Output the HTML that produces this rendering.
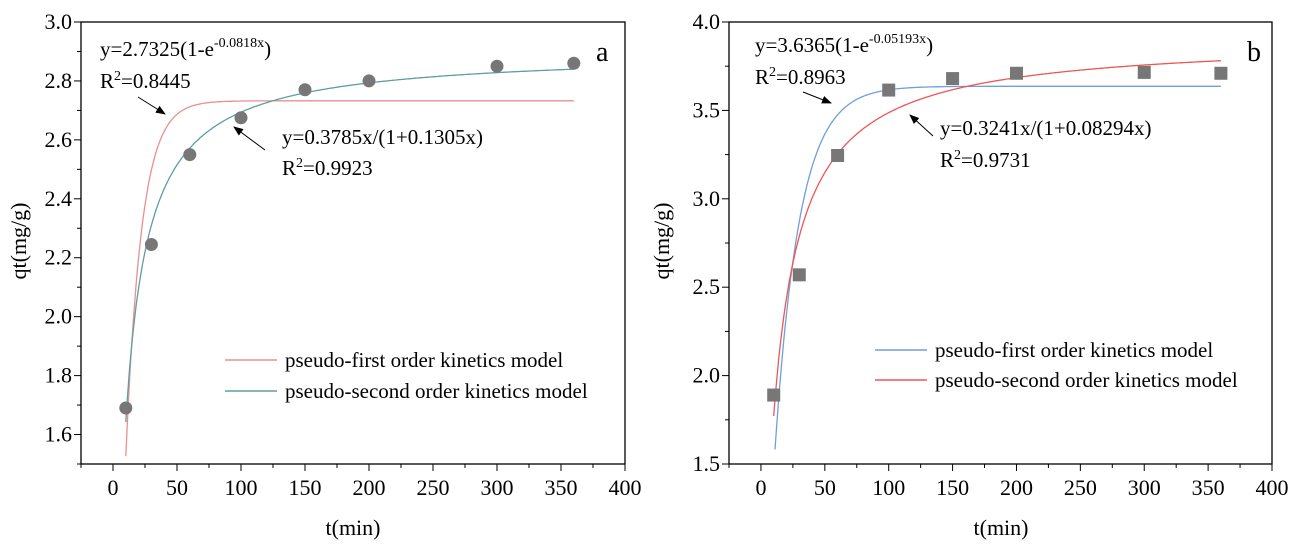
<!DOCTYPE html>
<html><head><meta charset="utf-8"><style>
body{margin:0;background:#fff}
svg{display:block}
svg text{font-family:"Liberation Serif","Times New Roman",Tinos,"Nimbus Roman","DejaVu Serif",serif}
</style></head><body>
<svg id="s" width="1297" height="545" viewBox="0 0 1297 545" xmlns="http://www.w3.org/2000/svg">
<defs><marker id="ar" markerWidth="10" markerHeight="8" refX="9" refY="4" orient="auto" markerUnits="userSpaceOnUse"><path d="M0,0 L10,4 L0,8 z" fill="#000"/></marker></defs>
<g id="g"></g>
<text x="100" y="56" font-size="21">y=2.7325(1-e<tspan dy="-9" font-size="14">-0.0818x</tspan><tspan dy="9">)</tspan></text>
<text x="100" y="88" font-size="21">R<tspan dy="-8" font-size="14">2</tspan><tspan dy="8">=0.8445</tspan></text>
<line x1="138" y1="97" x2="165" y2="114" stroke="#000" stroke-width="1" marker-end="url(#ar)"/>
<text x="282" y="144" font-size="21">y=0.3785x/(1+0.1305x)</text>
<text x="282" y="175" font-size="21">R<tspan dy="-8" font-size="14">2</tspan><tspan dy="8">=0.9923</tspan></text>
<line x1="265" y1="150" x2="234" y2="127" stroke="#000" stroke-width="1" marker-end="url(#ar)"/>
<text x="596" y="61" font-size="28">a</text>
<line x1="225" y1="360" x2="277" y2="360" stroke="#e89090" stroke-width="1.5"/>
<text x="285" y="367" font-size="21">pseudo-first order kinetics model</text>
<line x1="225" y1="391" x2="277" y2="391" stroke="#5f9ea0" stroke-width="1.5"/>
<text x="285" y="398" font-size="21">pseudo-second order kinetics model</text>
<text x="353" y="535" font-size="22" text-anchor="middle">t(min)</text>
<text transform="translate(26,241) rotate(-90)" font-size="22" text-anchor="middle">qt(mg/g)</text>
<text x="755" y="52" font-size="21">y=3.6365(1-e<tspan dy="-9" font-size="14">-0.05193x</tspan><tspan dy="9">)</tspan></text>
<text x="755" y="84" font-size="21">R<tspan dy="-8" font-size="14">2</tspan><tspan dy="8">=0.8963</tspan></text>
<line x1="803" y1="92" x2="831" y2="103" stroke="#000" stroke-width="1" marker-end="url(#ar)"/>
<text x="940" y="135" font-size="21">y=0.3241x/(1+0.08294x)</text>
<text x="940" y="167" font-size="21">R<tspan dy="-8" font-size="14">2</tspan><tspan dy="8">=0.9731</tspan></text>
<line x1="933" y1="136" x2="910" y2="115" stroke="#000" stroke-width="1" marker-end="url(#ar)"/>
<text x="1247" y="61" font-size="28">b</text>
<line x1="875" y1="350" x2="927" y2="350" stroke="#6f9fdc" stroke-width="1.5"/>
<text x="935" y="357" font-size="21">pseudo-first order kinetics model</text>
<line x1="875" y1="380" x2="927" y2="380" stroke="#f05555" stroke-width="1.5"/>
<text x="935" y="387" font-size="21">pseudo-second order kinetics model</text>
<text x="1001" y="535" font-size="22" text-anchor="middle">t(min)</text>
<text transform="translate(669,241) rotate(-90)" font-size="22" text-anchor="middle">qt(mg/g)</text>
</svg>
<script>
var g=document.getElementById('g'),NS="http://www.w3.org/2000/svg";
function el(t,a){var e=document.createElementNS(NS,t);for(var k in a)e.setAttribute(k,a[k]);g.appendChild(e);return e;}
function panel(o){
 var X=function(v){return o.x0+(v+25)*(o.x1-o.x0)/425;};
 var Y=function(v){return 22+(o.ymax-v)*(464-22)/(o.ymax-o.ymin);};
 el('rect',{x:o.x0,y:22,width:o.x1-o.x0,height:442,fill:'none',stroke:'#000','stroke-width':1.3});
 for(var v=-25;v<=400;v+=25){var maj=v%50==0;el('line',{x1:X(v),x2:X(v),y1:464,y2:464+(maj?7:4),stroke:'#000'});
  if(maj){var t=el('text',{x:X(v),y:495,'font-size':22,'text-anchor':'middle'});t.textContent=v;}}
 for(var i=0;;i++){var v=o.ymin+i*o.minor;if(v>o.ymax+1e-9)break;var maj=Math.abs(Math.round(v/o.major)*o.major-v)<1e-6;
  el('line',{x1:o.x0,x2:o.x0-(maj?7:4),y1:Y(v),y2:Y(v),stroke:'#000'});
  if(maj&&v>o.ymin+1e-6||maj&&o.labelMin){var t=el('text',{x:o.x0-9,y:Y(v)+7,'font-size':22,'text-anchor':'end'});t.textContent=v.toFixed(1);}}
 o.curves.forEach(function(c){var d='',first=true;for(var x=10;x<=360;x+=1){var y=c.f(x);if(y<o.ymin)continue;d+=(first?'M':'L')+X(x).toFixed(1)+','+Y(y).toFixed(1);first=false;}
  el('path',{d:d,fill:'none',stroke:c.c,'stroke-width':1.3});});
 o.pts.forEach(function(p){if(o.sq)el('rect',{x:X(p[0])-6.5,y:Y(p[1])-6.5,width:13,height:13,fill:'#777'});else el('circle',{cx:X(p[0]),cy:Y(p[1]),r:6.5,fill:'#777'});});
}
panel({x0:81,x1:625,ymin:1.5,ymax:3.0,major:0.2,minor:0.1,labelMin:false,
 curves:[{c:'#e89090',f:function(x){return 2.7325*(1-Math.exp(-0.0818*x));}},{c:'#5f9ea0',f:function(x){return 0.3785*x/(1+0.1305*x);}}],
 pts:[[10,1.69],[30,2.245],[60,2.55],[100,2.675],[150,2.77],[200,2.8],[300,2.85],[360,2.86]]});
panel({x0:729,x1:1272,ymin:1.5,ymax:4.0,major:0.5,minor:0.25,labelMin:true,sq:true,
 curves:[{c:'#6f9fdc',f:function(x){return 3.6365*(1-Math.exp(-0.05193*x));}},{c:'#f05555',f:function(x){return 0.3241*x/(1+0.08294*x);}}],
 pts:[[10,1.89],[30,2.57],[60,3.245],[100,3.615],[150,3.68],[200,3.71],[300,3.715],[360,3.71]]});
</script>
</body></html>
